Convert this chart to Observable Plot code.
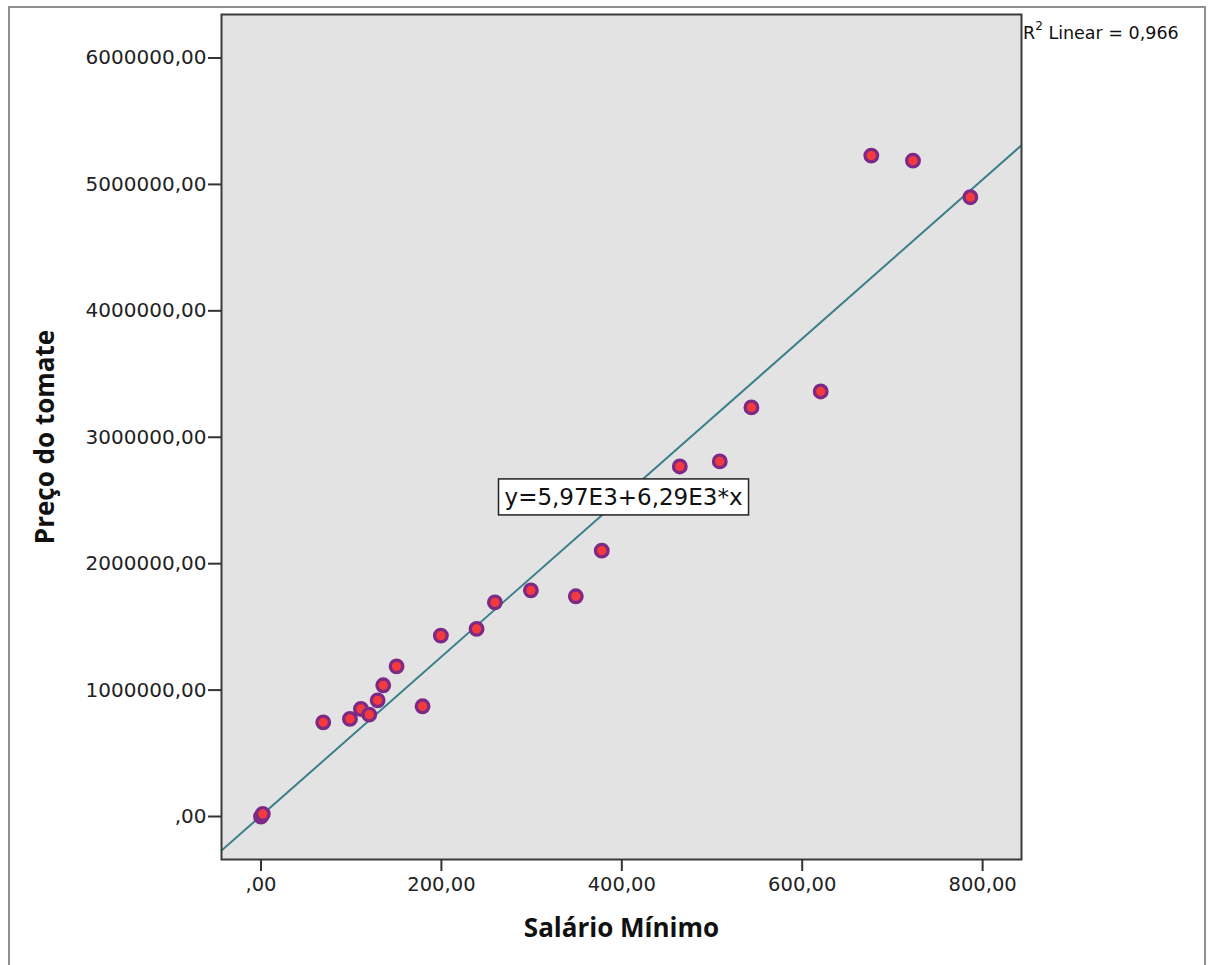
<!DOCTYPE html>
<html>
<head>
<meta charset="utf-8">
<script src="https://cdn.jsdelivr.net/npm/d3@7"></script>
<script src="https://cdn.jsdelivr.net/npm/@observablehq/plot@0.6"></script>
<style>
  html, body { margin: 0; padding: 0; background: #fff; }
  #wrap { position: relative; width: 1215px; height: 965px; overflow: hidden; }
  #border { position: absolute; left: 8px; top: 6px; width: 1198px; height: 980px; border: 2px solid #8f8f8f; box-sizing: border-box; }
  #chart { position: absolute; left: 0; top: 0; }
  #r2 { position: absolute; left: 1023px; top: 21px; font-family: "DejaVu Sans", sans-serif; font-size: 17.5px; color: #111; white-space: nowrap; }
  #r2 sup { font-size: 12px; position: relative; top: -2px; }
</style>
</head>
<body>
<div id="wrap">
  <div id="border"></div>
  <div id="chart"></div>
  <div id="r2">R<sup>2</sup> Linear = 0,966</div>
</div>
<script>
// Data
const salarioMinimo = [0, 2, 69, 98.6, 110.8, 120, 129.3, 135.5, 150.3, 179.1, 199.4, 239, 259.3, 299.2, 349, 377.8, 464.3, 508.6, 543.7, 620.5, 676.6, 722.8, 786.4];
const precoTomate   = [0, 20000, 745000, 772000, 851000, 806000, 919000, 1038000, 1188000, 872000, 1431000, 1484000, 1694000, 1789000, 1742000, 2103000, 2769000, 2809000, 3236000, 3362000, 5228000, 5188000, 4899000];

const xTicks = [0, 200, 400, 600, 800];
const yTicks = [0, 1000000, 2000000, 3000000, 4000000, 5000000, 6000000];
const xDomain = [-43.8, 843.1];
const yDomain = [-340000, 6344000];

// Fit line (as reported): y = 5,97E3 + 6,29E3 * x
const intercept = 5970;
const slope = 6290;
const equationText = "y=5,97E3+6,29E3*x";
const equationAt = [{x: 401.9, y: 2523000}];

const points = salarioMinimo.map((s, i) => ({x: s, y: precoTomate[i]}));
const fitLine = xDomain.map(x => ({x, y: intercept + slope * x}));

const fmt = d => {
  const s = d.toFixed(2).replace(".", ",");
  return d === 0 ? ",00" : s;
};

const chart = Plot.plot({
  width: 1215,
  height: 965,
  marginLeft: 221,
  marginRight: 194,
  marginTop: 14,
  marginBottom: 106,
  style: {fontFamily: "DejaVu Sans, sans-serif", fontSize: "20px", color: "#222", background: "transparent"},
  x: {domain: xDomain, ticks: xTicks},
  y: {domain: yDomain, ticks: yTicks},
  marks: [
    Plot.frame({fill: "#e3e3e3", stroke: "none"}),
    Plot.line(fitLine, {x: "x", y: "y", stroke: "#3b7f8c", strokeWidth: 2, clip: true}),
    Plot.dot(points, {x: "x", y: "y", r: 6.3, fill: "#f43a3c", stroke: "#7c2a86", strokeWidth: 3.3}),
    Plot.text(equationAt, {x: "x", y: "y", text: () => equationText, fontSize: 23, fill: "#111", className: "eqlabel"}),
    Plot.frame({stroke: "#3a3a3a", strokeWidth: 2}),
    Plot.axisX({ticks: xTicks, tickFormat: fmt, tickSize: 12, tickPadding: 6, stroke: "#333", strokeWidth: 2, label: null, fontSize: 19.5}),
    Plot.axisY({ticks: yTicks, tickFormat: fmt, tickSize: 13, tickPadding: 2, stroke: "#333", strokeWidth: 2, label: null, fontSize: 20}),
    Plot.text(["Salário Mínimo"], {frameAnchor: "bottom", dy: 77, text: d => d, fontSize: 26, fontWeight: "bold", fontFamily: "Open Sans", fill: "#111"}),
    Plot.text(["Preço do tomate"], {frameAnchor: "left", dx: -176, rotate: -90, textAnchor: "middle", text: d => d, fontSize: 26, fontWeight: "bold", fontFamily: "Open Sans", fill: "#111"})
  ]
});

document.getElementById("chart").appendChild(chart);

// Draw a white box with a border behind the equation label
const eq = chart.querySelector("g.eqlabel");
if (eq) {
  const t = eq.querySelector("text");
  const bb = t.getBBox();
  const padX = 6, padY = 5;
  const rect = document.createElementNS("http://www.w3.org/2000/svg", "rect");
  rect.setAttribute("x", bb.x - padX);
  rect.setAttribute("y", bb.y - padY);
  rect.setAttribute("width", bb.width + 2 * padX);
  rect.setAttribute("height", bb.height + 2 * padY);
  rect.setAttribute("fill", "#fff");
  rect.setAttribute("stroke", "#222");
  rect.setAttribute("stroke-width", 1.5);
  const tr = t.getAttribute("transform");
  if (tr) rect.setAttribute("transform", tr);
  t.parentNode.insertBefore(rect, t);
}
</script>
</body>
</html>
